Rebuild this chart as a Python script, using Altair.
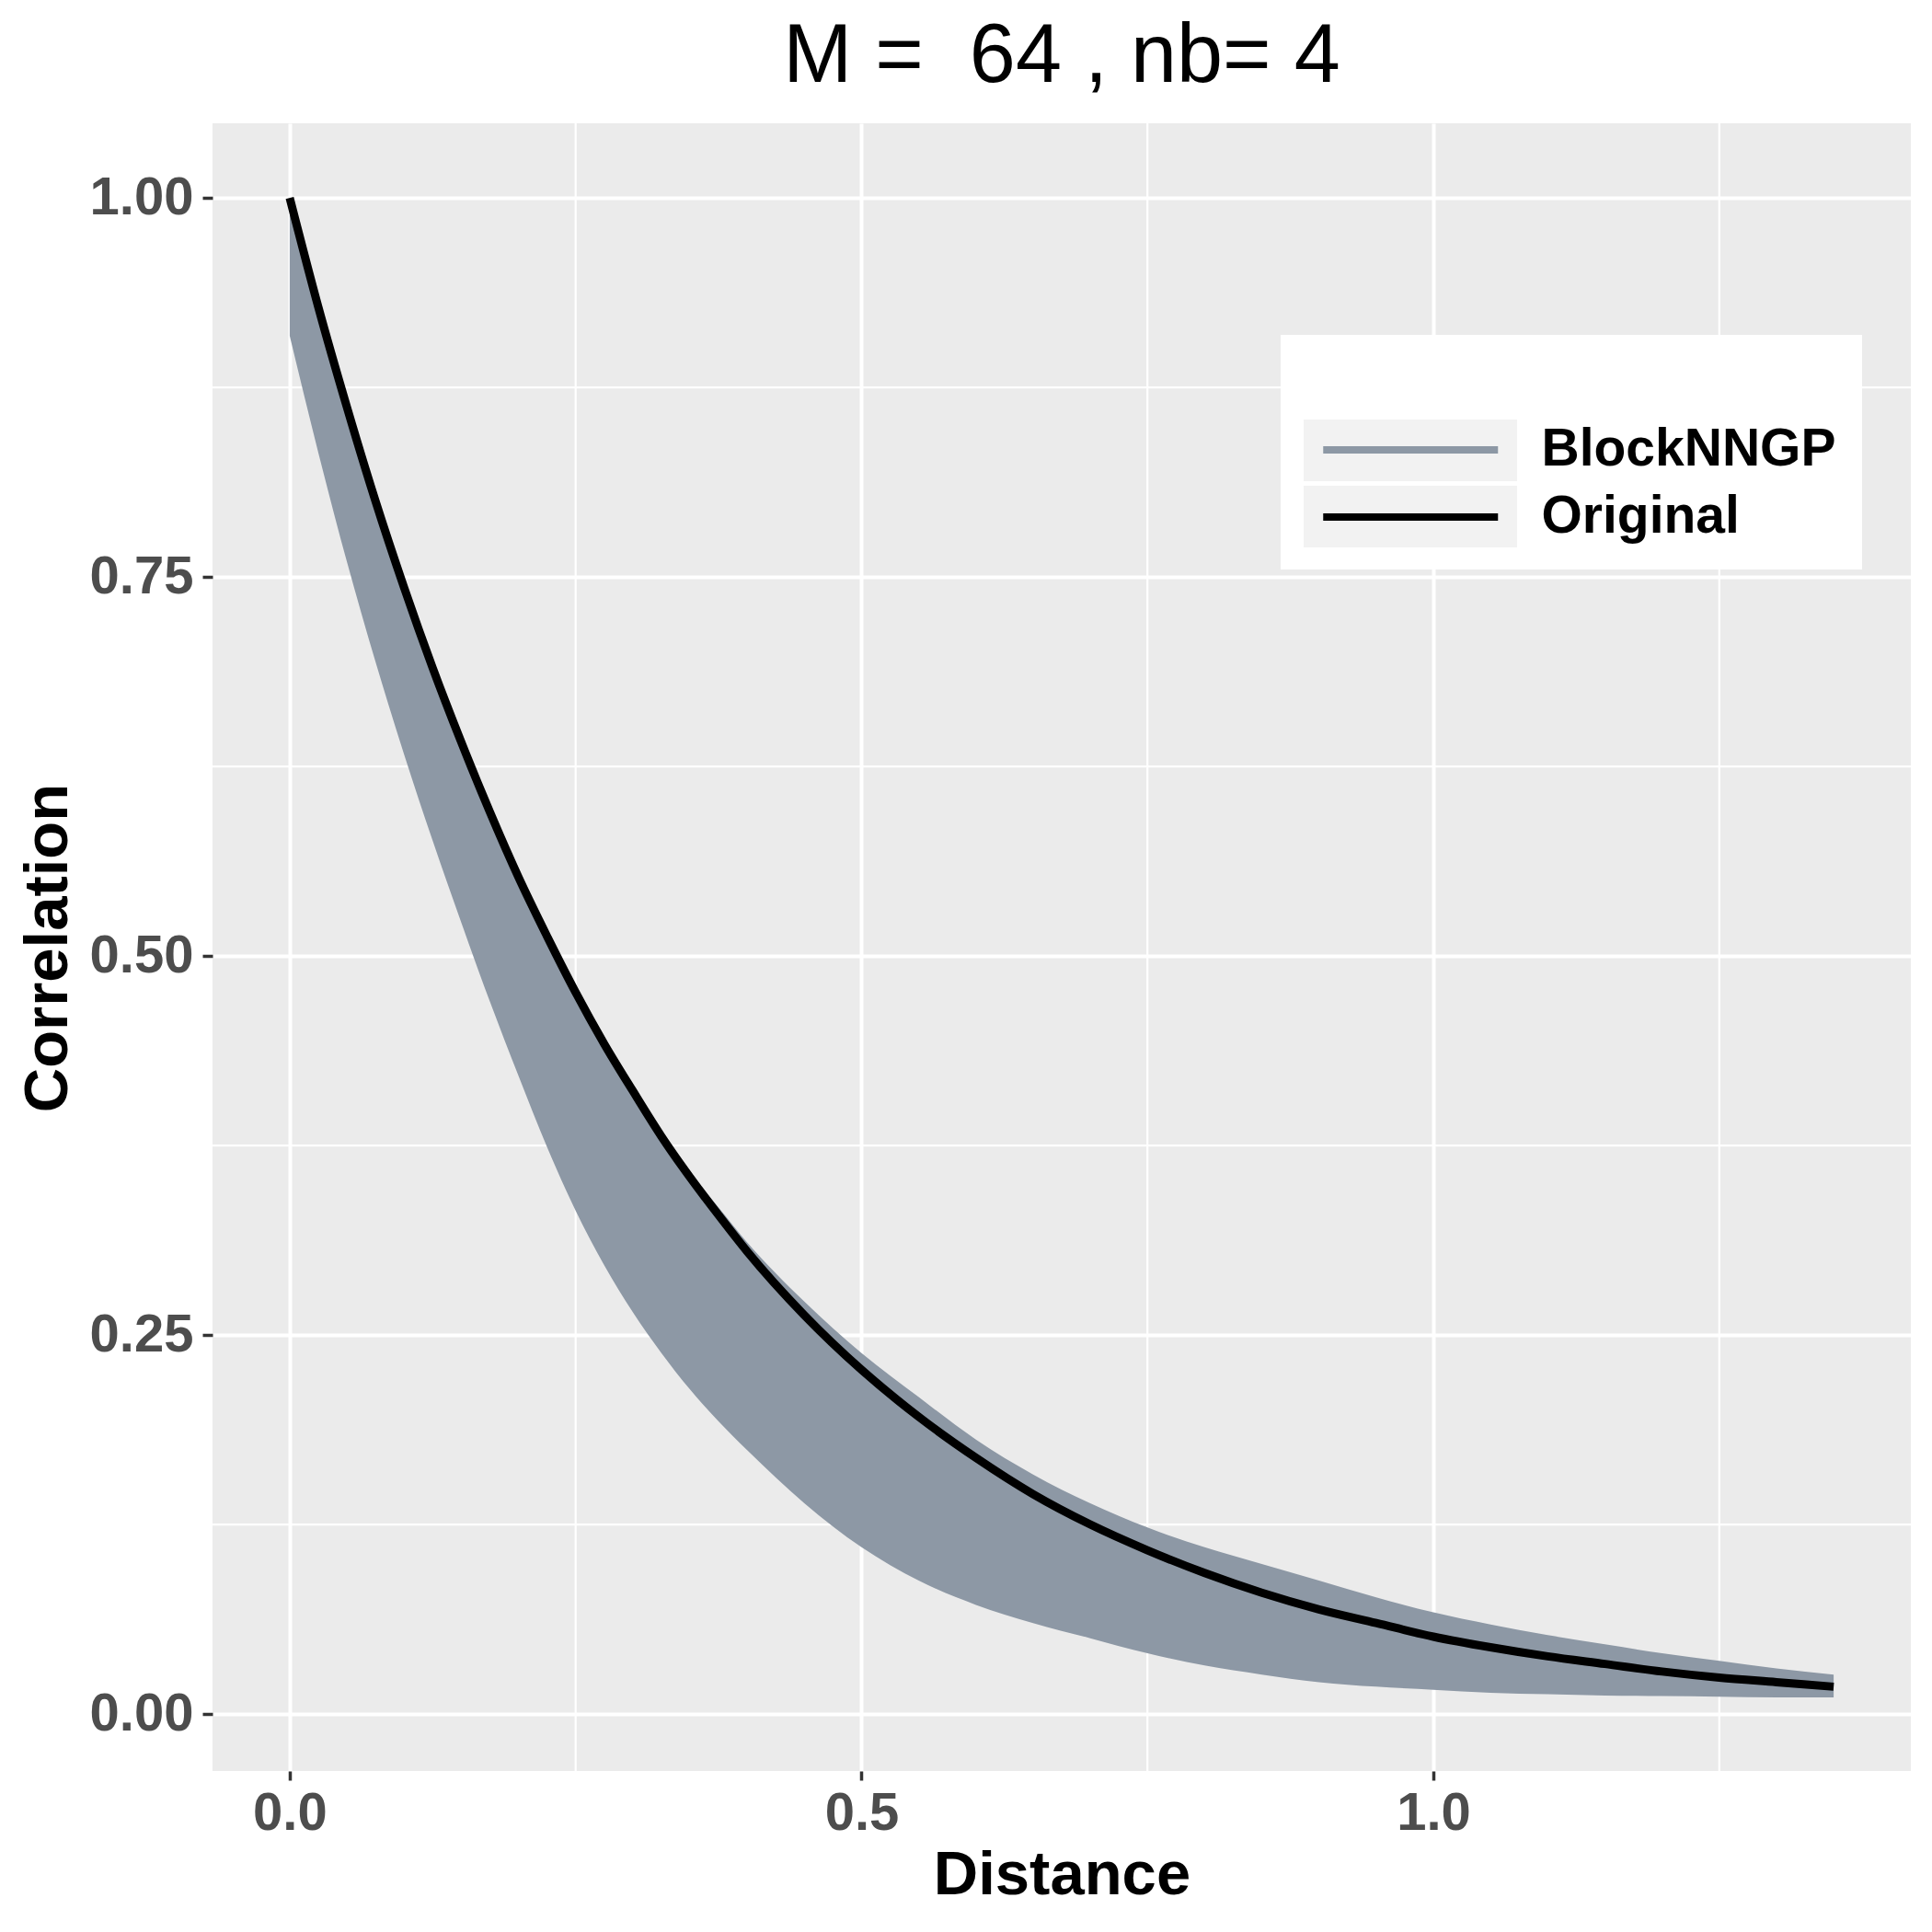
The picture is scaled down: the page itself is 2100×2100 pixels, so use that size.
import altair as alt
import pandas as pd

# ---- values ----
distance = [0.0, 0.025, 0.05, 0.075, 0.1, 0.125, 0.15, 0.175, 0.2, 0.225, 0.25, 0.275, 0.3, 0.325, 0.35, 0.375, 0.4,
            0.45, 0.5, 0.55, 0.6, 0.65, 0.7, 0.75, 0.8, 0.85, 0.9, 0.95, 1.0, 1.05, 1.1, 1.15, 1.2, 1.25, 1.3, 1.35]
original = [1.000, 0.928, 0.862, 0.800, 0.743, 0.690, 0.641, 0.595, 0.552, 0.513, 0.476, 0.442, 0.411, 0.381, 0.354, 0.329, 0.305,
            0.263, 0.227, 0.196, 0.169, 0.145, 0.125, 0.108, 0.093, 0.080, 0.069, 0.060, 0.051, 0.044, 0.038, 0.033, 0.028, 0.024, 0.021, 0.018]
block_upper = [1.000, 0.928, 0.862, 0.800, 0.743, 0.690, 0.641, 0.595, 0.552, 0.513, 0.476, 0.442, 0.411, 0.382, 0.357, 0.334, 0.311,
               0.272, 0.238, 0.209, 0.181, 0.158, 0.139, 0.123, 0.110, 0.099, 0.088, 0.077, 0.067, 0.059, 0.052, 0.046, 0.040, 0.035, 0.030, 0.026]
block_lower = [0.909, 0.832, 0.760, 0.694, 0.633, 0.576, 0.522, 0.470, 0.421, 0.374, 0.332, 0.296, 0.265, 0.238, 0.214, 0.193, 0.174,
               0.139, 0.110, 0.088, 0.072, 0.060, 0.050, 0.040, 0.032, 0.026, 0.021, 0.018, 0.016, 0.014, 0.013, 0.0122, 0.0118, 0.0114, 0.011, 0.011]
series_names = ["BlockNNGP", "Original"]
series_colors = ["#8D98A5", "#000000"]
x_ticks = [0.0, 0.5, 1.0]
y_ticks = [0.0, 0.25, 0.5, 0.75, 1.0]
x_minor = [0.25, 0.75, 1.25]
y_minor = [0.125, 0.375, 0.625, 0.875]
title_text = "M =\u00a0 64 , nb= 4"

FONT = "Liberation Sans"
W, H = 1846, 1791

band_df = pd.DataFrame({"distance": distance, "upper": block_upper, "lower": block_lower})
line_df = pd.DataFrame({"distance": distance, "correlation": original,
                        "series": [series_names[1]] * len(distance)})
xminor_df = pd.DataFrame({"distance": x_minor})
yminor_df = pd.DataFrame({"correlation": y_minor})

xscale = alt.Scale(domain=[-0.0675, 1.4175], nice=False, zero=False)
yscale = alt.Scale(domain=[-0.0376, 1.0492], nice=False, zero=False)

xaxis = alt.Axis(values=x_ticks, format=".1f", labelFont=FONT, labelFontSize=58, labelFontWeight="bold",
                 labelColor="#4D4D4D", tickColor="#333333", tickWidth=3.5, tickSize=10, labelPadding=7,
                 domain=False, grid=True, gridColor="white", gridWidth=4, labelFlush=False,
                 titleFont=FONT, titleFontSize=67, titleFontWeight="bold", titleColor="black",
                 titleY=80, titleBaseline="top")
yaxis = alt.Axis(values=y_ticks, format=".2f", labelFont=FONT, labelFontSize=58, labelFontWeight="bold",
                 labelColor="#4D4D4D", tickColor="#333333", tickWidth=3.5, tickSize=11, labelPadding=10,
                 domain=False, grid=True, gridColor="white", gridWidth=4, labelFlush=False,
                 titleFont=FONT, titleFontSize=67, titleFontWeight="bold", titleColor="black",
                 titleX=-145, titleY=896, titleBaseline="bottom")


def X(field="distance"):
    return alt.X(f"{field}:Q", scale=xscale, axis=xaxis, title="Distance")


def Y(field):
    return alt.Y(f"{field}:Q", scale=yscale, axis=yaxis, title="Correlation")


minor_x = alt.Chart(xminor_df).mark_rule(color="white", strokeWidth=2.2).encode(x=X())
minor_y = alt.Chart(yminor_df).mark_rule(color="white", strokeWidth=2.2).encode(y=Y("correlation"))

band = alt.Chart(band_df).mark_area(color=series_colors[0], interpolate="monotone", opacity=1).encode(
    x=X(), y=Y("upper"), y2="lower:Q"
)

line = alt.Chart(line_df).mark_line(strokeWidth=9, interpolate="monotone", strokeCap="butt").encode(
    x=X(), y=Y("correlation"),
    stroke=alt.Stroke("series:N", scale=alt.Scale(domain=series_names, range=series_colors),
                      legend=alt.Legend(title=None, orient="none", legendX=1202.5, legendY=326.5,
                                        symbolType="M-1,0H7", symbolSize=2256.25, symbolStrokeWidth=8,
                                        symbolOpacity=1, labelFont=FONT, labelFontSize=57,
                                        labelFontWeight="bold", labelColor="black", labelOffset=185,
                                        labelLimit=1000, rowPadding=15, padding=0))
)

one = alt.Data(values=[{"k": 1}])
legend_box = alt.Chart(one).mark_rect(color="white").encode(
    x=alt.value(1161), x2=alt.value(1793), y=alt.value(230), y2=alt.value(485))
key1 = alt.Chart(one).mark_rect(color="#F2F2F2").encode(
    x=alt.value(1186), x2=alt.value(1418), y=alt.value(322), y2=alt.value(389))
key2 = alt.Chart(one).mark_rect(color="#F2F2F2").encode(
    x=alt.value(1186), x2=alt.value(1418), y=alt.value(394), y2=alt.value(461))

chart = alt.layer(minor_x, minor_y, band, line, legend_box, key1, key2).properties(
    width=W, height=H,
    title=alt.TitleParams(title_text, font=FONT, fontSize=90, fontWeight="normal", color="black",
                          anchor="middle", frame="group", baseline="alphabetic", offset=-46),
    autosize=alt.AutoSizeParams(type="none"),
    padding={"left": 223, "top": 126, "right": 15, "bottom": 167},
).configure(background="white").configure_view(fill="#EBEBEB", strokeWidth=0)

chart.save("out.html", embed_options={"renderer": "svg", "actions": False})
